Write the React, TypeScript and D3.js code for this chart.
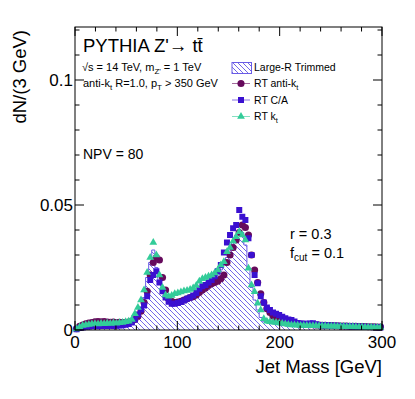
import React from "react";
import * as d3 from "d3";

// 3 GeV bins, 0-300 GeV
const binWidth = 3;

// Large-R trimmed histogram (hatched)
const trimmed = [
  0.0003, 0.0008, 0.0012, 0.0015, 0.0016, 0.0018, 0.0018, 0.0017, 0.0018, 0.0019,
  0.0018, 0.0019, 0.002, 0.0021, 0.002, 0.0022, 0.0025, 0.0028, 0.0033, 0.0042,
  0.0058, 0.0085, 0.013, 0.021, 0.027, 0.032, 0.025, 0.019, 0.015, 0.0125,
  0.011, 0.0105, 0.0105, 0.011, 0.0112, 0.0118, 0.0122, 0.0128, 0.0135, 0.014,
  0.0148, 0.0158, 0.0168, 0.018, 0.019, 0.0205, 0.022, 0.024, 0.026, 0.029,
  0.032, 0.035, 0.038, 0.04, 0.039, 0.034, 0.025, 0.017, 0.012, 0.008,
  0.005, 0.0035, 0.003, 0.0027, 0.0025, 0.0023, 0.0021, 0.0019, 0.0017, 0.0016,
  0.0015, 0.0014, 0.0013, 0.0012, 0.0011, 0.001, 0.001, 0.001, 0.0009, 0.0009,
  0.0009, 0.0008, 0.0008, 0.0008, 0.0008, 0.0007, 0.0007, 0.0007, 0.0007, 0.0007,
  0.0006, 0.0006, 0.0006, 0.0006, 0.0006, 0.0005, 0.0005, 0.0005, 0.0005, 0.0005,
];

// RT anti-kt (circles)
const rtAntiKt = [
  0.0005, 0.0015, 0.002, 0.0025, 0.0028, 0.003, 0.0033, 0.0034, 0.0033, 0.0034,
  0.0032, 0.0031, 0.0032, 0.003, 0.0031, 0.003, 0.003, 0.0032, 0.0035, 0.0042,
  0.0055, 0.0075, 0.011, 0.0155, 0.022, 0.027, 0.029, 0.028, 0.021, 0.016,
  0.0125, 0.0115, 0.011, 0.0112, 0.0115, 0.012, 0.0125, 0.013, 0.0133, 0.014,
  0.015, 0.016, 0.0168, 0.0178, 0.0185, 0.019, 0.0195, 0.0205, 0.022, 0.027,
  0.03, 0.033, 0.036, 0.039, 0.042, 0.041, 0.038, 0.03, 0.024, 0.019,
  0.0145, 0.011, 0.0085, 0.007, 0.0055, 0.0048, 0.0042, 0.0037, 0.0033, 0.003,
  0.0028, 0.0026, 0.0025, 0.0024, 0.0023, 0.0022, 0.0021, 0.0021, 0.002, 0.002,
  0.0019, 0.0019, 0.0018, 0.0018, 0.0017, 0.0017, 0.0016, 0.0016, 0.0016, 0.0015,
  0.0015, 0.0015, 0.0014, 0.0014, 0.0014, 0.0013, 0.0013, 0.0013, 0.0012, 0.0012,
];

// RT C/A (squares)
const rtCA = [
  0.0003, 0.0008, 0.001, 0.0013, 0.0014, 0.0015, 0.0016, 0.0015, 0.0016, 0.0017,
  0.0016, 0.0017, 0.0016, 0.0017, 0.0018, 0.0019, 0.0021, 0.0024, 0.003, 0.0042,
  0.0062, 0.0082, 0.0098, 0.0135, 0.02, 0.022, 0.0235, 0.019, 0.0155, 0.013,
  0.0113, 0.0105, 0.0105, 0.0108, 0.0112, 0.0118, 0.0125, 0.013, 0.0138, 0.0148,
  0.0165, 0.0175, 0.018, 0.019, 0.02, 0.0215, 0.0235, 0.026, 0.031, 0.035,
  0.038, 0.0407, 0.042, 0.048, 0.0453, 0.044, 0.0367, 0.03, 0.022, 0.0187,
  0.0135, 0.011, 0.009, 0.008, 0.007, 0.0065, 0.006, 0.0053, 0.0047, 0.0042,
  0.004, 0.0034, 0.0028, 0.0026, 0.0025, 0.0025, 0.0026, 0.0027, 0.0023, 0.002,
  0.0019, 0.0019, 0.0018, 0.0018, 0.0017, 0.0017, 0.0016, 0.0016, 0.0015, 0.0015,
  0.0014, 0.0014, 0.0013, 0.0013, 0.0013, 0.0012, 0.0012, 0.0011, 0.0011, 0.001,
];

// RT kt (triangles)
const rtKt = [
  0.0004, 0.0012, 0.0018, 0.002, 0.0022, 0.0024, 0.0025, 0.0024, 0.0026, 0.0025,
  0.0027, 0.0026, 0.0028, 0.0027, 0.0029, 0.003, 0.0033, 0.0035, 0.0042, 0.0065,
  0.009, 0.012, 0.016, 0.023, 0.029, 0.035, 0.03, 0.022, 0.017, 0.014,
  0.0135, 0.0138, 0.0145, 0.0148, 0.0152, 0.0156, 0.0158, 0.0162, 0.0168, 0.0178,
  0.0195, 0.0205, 0.021, 0.0215, 0.022, 0.0228, 0.024, 0.026, 0.0273, 0.0313,
  0.033, 0.0355, 0.0373, 0.0393, 0.038, 0.036, 0.0247, 0.018, 0.0153, 0.0107,
  0.008, 0.0045, 0.0035, 0.0033, 0.0031, 0.003, 0.0028, 0.0026, 0.0024, 0.0022,
  0.002, 0.002, 0.0019, 0.0018, 0.0018, 0.0018, 0.0017, 0.0017, 0.0017, 0.0016,
  0.0016, 0.0016, 0.0015, 0.0015, 0.0015, 0.0014, 0.0014, 0.0014, 0.0013, 0.0013,
  0.0013, 0.0012, 0.0012, 0.0012, 0.0011, 0.0011, 0.0011, 0.001, 0.001, 0.001,
];

const xTicks = [0, 100, 200, 300];
const yTicks = [0, 0.05, 0.1];
const yTickLabels = ["0", "0.05", "0.1"];

const W = 415;
const H = 399;
const left = 75, right = 382, top = 27, bottom = 330;
const font = "'Liberation Sans', Arial, Helvetica, sans-serif";

const cAnti = "#660a5c";
const cCA = "#3a10d0";
const cKt = "#33cc99";
const cHist = "#6a5ce6";

const App = () => {
  const x = d3.scaleLinear().domain([0, 300]).range([left, right]);
  const y = d3.scaleLinear().domain([0, 0.1212]).range([bottom, top]);

  const bins = trimmed.map((v, i) => ({ lo: i * binWidth, v }));
  const stepPts: [number, number][] = [[0, 0]];
  bins.forEach((b) => {
    stepPts.push([b.lo, b.v]);
    stepPts.push([b.lo + binWidth, b.v]);
  });
  stepPts.push([300, 0]);

  const area = d3.area<[number, number]>()
    .x((d) => x(d[0]))
    .y0(y(0))
    .y1((d) => y(d[1]));
  const line = d3.line<[number, number]>()
    .x((d) => x(d[0]))
    .y((d) => y(d[1]));

  const center = (i: number) => x(i * binWidth + binWidth / 2);

  const circle = d3.symbol(d3.symbolCircle, 40)();
  const square = d3.symbol(d3.symbolSquare, 36)();
  const triangle = d3.symbol(d3.symbolTriangle, 26)();

  const xMinor = d3.range(0, 301, 20);
  const yMinor = d3.range(0, 0.1201, 0.01);

  return (
    <svg width={W} height={H} style={{ position: "absolute", left: 0, top: 0 }}
      fontFamily={font}>
      <defs>
        <pattern id="hatch" patternUnits="userSpaceOnUse" width={5} height={5}>
          <path d="M-1,-1 L1,1 M0,0 L5,5 M4,4 L6,6" stroke={cHist} strokeWidth={0.9} />
        </pattern>
      </defs>
      <rect width={W} height={H} fill="#fff" />

      {/* histogram */}
      <path d={area(stepPts) ?? ""} fill="url(#hatch)" />
      <path d={line(stepPts) ?? ""} fill="none" stroke={cHist} strokeWidth={1} />

      {/* markers */}
      {rtAntiKt.map((v, i) => (
        <path key={"a" + i} d={circle!} transform={`translate(${center(i)},${y(v)})`} fill={cAnti} />
      ))}
      {rtCA.map((v, i) => (
        <path key={"c" + i} d={square!} transform={`translate(${center(i)},${y(v)})`} fill={cCA} />
      ))}
      {rtKt.map((v, i) => (
        <path key={"k" + i} d={triangle!} transform={`translate(${center(i)},${y(v)})`} fill={cKt} />
      ))}

      {/* frame */}
      <rect x={left} y={top} width={right - left} height={bottom - top} fill="none" stroke="#000" strokeWidth={1} />

      {/* ticks */}
      {xMinor.map((t) => {
        const len = t % 100 === 0 ? 9 : 4.5;
        return (
          <g key={"xt" + t} stroke="#000" strokeWidth={1}>
            <line x1={x(t)} x2={x(t)} y1={bottom} y2={bottom - len} />
            <line x1={x(t)} x2={x(t)} y1={top} y2={top + len} />
          </g>
        );
      })}
      {yMinor.map((t, i) => {
        const len = i % 5 === 0 ? 9 : 4.5;
        return (
          <g key={"yt" + i} stroke="#000" strokeWidth={1}>
            <line x1={left} x2={left + len} y1={y(t)} y2={y(t)} />
            <line x1={right} x2={right - len} y1={y(t)} y2={y(t)} />
          </g>
        );
      })}

      {xTicks.map((t) => (
        <text key={"xl" + t} x={x(t)} y={348} fontSize={17} textAnchor="middle">{t}</text>
      ))}
      {yTicks.map((t, i) => (
        <text key={"yl" + i} x={73} y={y(t) + 6} fontSize={17} textAnchor="end">{yTickLabels[i]}</text>
      ))}

      <text x={right} y={373} fontSize={18.5} textAnchor="end">Jet Mass [GeV]</text>
      <text transform={`translate(26,${top + 3}) rotate(-90)`} fontSize={18.5} textAnchor="end">dN/(3 GeV)</text>

      {/* annotations */}
      <text x={83} y={52} fontSize={18.5}>PYTHIA Z'→ tt̄</text>
      <text x={82} y={71} fontSize={11}>
        √s = 14 TeV, m<tspan fontSize={8} dy={3}>Z'</tspan><tspan dy={-3}> = 1 TeV</tspan>
      </text>
      <text x={83} y={87} fontSize={11}>
        anti-k<tspan fontSize={8} dy={3}>t</tspan><tspan dy={-3}> R=1.0, p</tspan>
        <tspan fontSize={8} dy={3}>T</tspan><tspan dy={-3}> &gt; 350 GeV</tspan>
      </text>
      <text x={83} y={159} fontSize={14}>NPV = 80</text>
      <text x={290} y={239} fontSize={14.5}>r = 0.3</text>
      <text x={290} y={258} fontSize={14.5}>
        f<tspan fontSize={10} dy={3}>cut</tspan><tspan dy={-3}> = 0.1</tspan>
      </text>

      {/* legend */}
      <rect x={232} y={62.5} width={19.5} height={11} fill="url(#hatch)" stroke={cHist} strokeWidth={1} />
      <text x={254} y={71} fontSize={10.5}>Large-R Trimmed</text>

      <line x1={232} x2={250} y1={83.5} y2={83.5} stroke={cAnti} strokeOpacity={0.6} />
      <path d={circle!} transform="translate(241,83.5)" fill={cAnti} />
      <text x={254} y={87} fontSize={10.5}>
        RT anti-k<tspan fontSize={7.5} dy={3}>t</tspan>
      </text>

      <line x1={232} x2={250} y1={100} y2={100} stroke={cCA} strokeOpacity={0.6} />
      <path d={square!} transform="translate(241,100)" fill={cCA} />
      <text x={254} y={103.5} fontSize={10.5}>RT C/A</text>

      <line x1={232} x2={250} y1={116.5} y2={116.5} stroke={cKt} strokeOpacity={0.6} />
      <path d={triangle!} transform="translate(241,116.5)" fill={cKt} />
      <text x={254} y={120} fontSize={10.5}>
        RT k<tspan fontSize={7.5} dy={3}>t</tspan>
      </text>
    </svg>
  );
};

export default App;
